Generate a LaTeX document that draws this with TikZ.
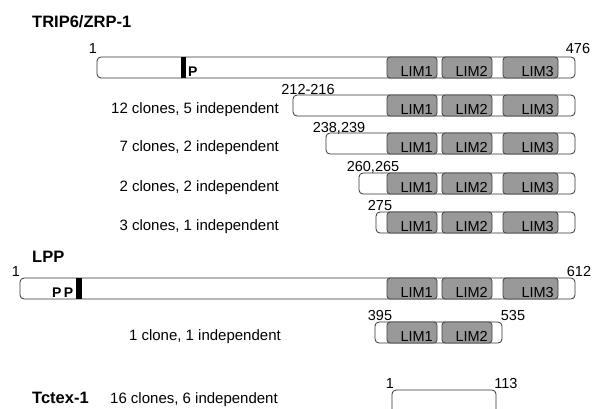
\documentclass[tikz,border=0pt]{standalone}
\usepackage{fontspec}
\setmainfont{Liberation Sans}
\begin{document}
\begin{tikzpicture}[x=1pt,y=-1pt,
  bar/.style={draw=black!80,fill=white,line width=0.8pt,rounded corners=4pt},
  limbox/.style={draw=black!75,fill=black!40,line width=0.8pt,rounded corners=3pt},
  num/.style={font=\fontsize{14.5}{16}\selectfont,inner sep=0pt,anchor=base},
  lbl/.style={font=\fontsize{15}{17}\selectfont,inner sep=0pt,anchor=base east},
  title/.style={font=\bfseries\fontsize{16.5}{19}\selectfont,inner sep=0pt,anchor=base west},
  limtext/.style={font=\fontsize{14.5}{16}\selectfont,inner sep=0pt,anchor=base east},
  pmark/.style={font=\bfseries\fontsize{14}{16}\selectfont,inner sep=0pt,anchor=base west}]
\useasboundingbox (0,0) rectangle (597,408);

\node[title] (trip) at (32,27) {TRIP6/ZRP-1};
\node[title] (lpp) at (32,262) {LPP};
\node[title] (tctex) at (32,403) {Tctex-1};

\foreach \y/\x [count=\i] in {57/97,95/293,133/326,173/359,212/376,278/20}{
  \draw[bar] (\x,\y) rectangle (575,\y+21);
  \foreach \a/\b/\t [count=\j] in {387/437/LIM1,442/492/LIM2,503/558/LIM3}{
    \draw[limbox] (\a,\y) rectangle (\b,\y+21);
    \node[limtext] (lim\i-\j) at (\b-4,\y+19) {\t};
  }
}
\fill (181,57) rectangle (186,78);
\node[pmark] (p1) at (188,76) {P};
\fill (76,278) rectangle (82,299);
\node[pmark] (p2) at (52,297) {P\,P};

\draw[bar] (375,322) rectangle (502,343);
\foreach \a/\b/\t [count=\j] in {387/437/LIM1,442/492/LIM2}{
  \draw[limbox] (\a,322) rectangle (\b,343);
  \node[limtext] (limc-\j) at (\b-4,341) {\t};
}
\draw[bar,fill=none] (392,410) -- (392,390) -- (496,390) -- (496,410);

\node[num] (n1) at (93,53) {1};
\node[num] (n476) at (578,53) {476};
\node[num] (n212) at (308,94) {212-216};
\node[num] (n238) at (339,132) {238,239};
\node[num] (n260) at (373,171) {260,265};
\node[num] (n275) at (380,210) {275};
\node[num] (m1) at (16,276) {1};
\node[num] (n612) at (579,276) {612};
\node[num] (n395) at (380,320) {395};
\node[num] (n535) at (513,320) {535};
\node[num] (t1) at (390,388) {1};
\node[num] (n113) at (506,388) {113};

\node[lbl] (c12) at (279,113) {12 clones, 5 independent};
\node[lbl] (c7) at (279,151) {7 clones, 2 independent};
\node[lbl] (c2) at (279,191) {2 clones, 2 independent};
\node[lbl] (c3) at (279,230) {3 clones, 1 independent};
\node[lbl] (c1) at (281,340) {1 clone, 1 independent};
\node[lbl] (c16) at (278,403) {16 clones, 6 independent};
\end{tikzpicture}
\end{document}
